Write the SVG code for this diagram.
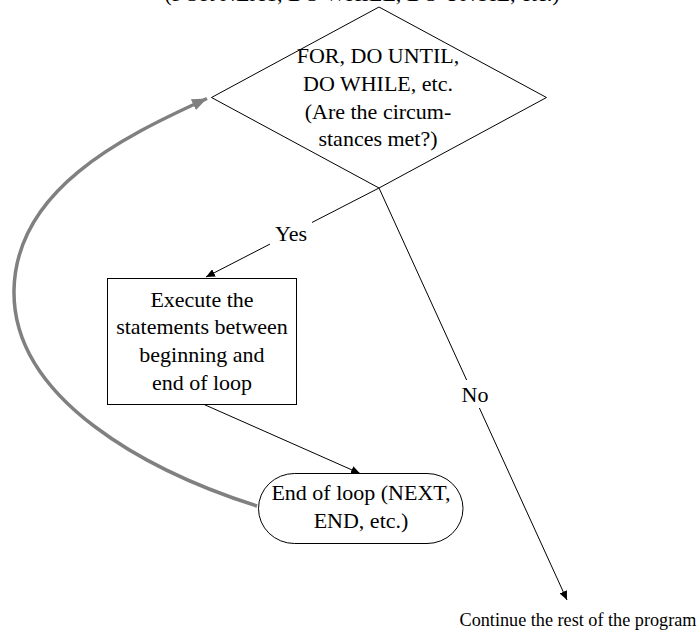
<svg xmlns="http://www.w3.org/2000/svg" width="699" height="631" viewBox="0 0 699 631">
<style>
text{font-family:"Liberation Serif","Times New Roman",serif;font-size:22px;fill:#000;text-anchor:middle}
.shape{fill:#fff;stroke:#000;stroke-width:1}
.conn{fill:none;stroke:#000;stroke-width:1}
.loop{fill:none;stroke:#808080;stroke-width:3.5}
</style>
<defs>
<marker id="ah" markerUnits="userSpaceOnUse" markerWidth="10" markerHeight="8" refX="9" refY="4" orient="auto">
<path d="M0,0 L9,4 L0,8 Z" fill="#000"/>
</marker>
<marker id="ahg" markerUnits="userSpaceOnUse" markerWidth="16" markerHeight="12" refX="15" refY="6" orient="auto">
<path d="M0,0 L15,6 L0,12 Z" fill="#808080"/>
</marker>
</defs>
<text x="362" y="0.5">(FOR NEXT, DO WHILE, DO UNTIL, etc.)</text>
<g id="connectors">
<path class="loop" d="M257,506 C150,472 12,400 14,290 C16,190 120,138 207,98.5" marker-end="url(#ahg)"/>
<line class="conn" x1="379" y1="188" x2="206" y2="277" marker-end="url(#ah)"/>
<line class="conn" x1="379" y1="188" x2="567" y2="600" marker-end="url(#ah)"/>
<line class="conn" x1="203" y1="404" x2="360" y2="473.5" marker-end="url(#ah)"/>
</g>
<g id="decision">
<polygon class="shape" points="379,7 546.5,97.5 379,188 211.5,97.5"/>
<text x="378" y="63">FOR, DO UNTIL,</text>
<text x="378" y="91">DO WHILE, etc.</text>
<text x="378" y="118.5">(Are the circum-</text>
<text x="378" y="146">stances met?)</text>
</g>
<g id="label-yes">
<rect x="270" y="222" width="42" height="24" fill="#fff"/>
<text x="291" y="241">Yes</text>
</g>
<g id="label-no">
<rect x="460" y="380" width="32" height="28" fill="#fff"/>
<text x="475" y="401.5">No</text>
</g>
<g id="execute">
<rect class="shape" x="107.5" y="278.5" width="189" height="126"/>
<text x="202" y="306.5">Execute the</text>
<text x="202" y="334">statements between</text>
<text x="202" y="361.5">beginning and</text>
<text x="202" y="389.5">end of loop</text>
</g>
<g id="end-loop">
<rect class="shape" x="258.5" y="473.5" width="204.5" height="70" rx="36" ry="35"/>
<text x="361" y="500">End of loop (NEXT,</text>
<text x="361" y="527.5">END, etc.)</text>
</g>
<g id="continue">
<text x="578" y="626" style="font-size:18.2px">Continue the rest of the program</text>
</g>
</svg>
